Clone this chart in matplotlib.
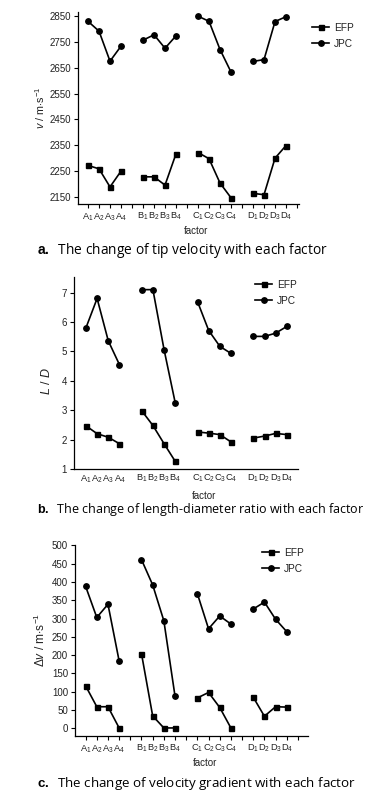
import matplotlib
matplotlib.use("Agg")
import matplotlib.pyplot as plt

plt.rcParams['font.family'] = ['Liberation Sans', 'DejaVu Sans']
plt.rcParams['mathtext.fontset'] = 'custom'
plt.rcParams['mathtext.rm'] = 'Liberation Sans'
plt.rcParams['mathtext.it'] = 'Liberation Sans:italic'
plt.rcParams['mathtext.bf'] = 'Liberation Sans:bold'

# ---------------- data ----------------
groups = ["A", "B", "C", "D"]
levels = [1, 2, 3, 4]
series = ["EFP", "JPC"]

# a. tip velocity (m/s)
v_efp = [2272, 2259, 2189, 2250, 2228, 2228, 2196, 2317,
         2322, 2298, 2204, 2147, 2164, 2159, 2300, 2349]
v_jpc = [2829, 2791, 2675, 2733, 2756, 2777, 2725, 2773,
         2849, 2829, 2720, 2633, 2674, 2681, 2828, 2847]
v_ticks = [2150, 2250, 2350, 2450, 2550, 2650, 2750, 2850]

# b. length-diameter ratio
ld_efp = [2.47, 2.20, 2.08, 1.86, 2.98, 2.48, 1.86, 1.26,
          2.26, 2.22, 2.17, 1.92, 2.05, 2.12, 2.21, 2.17]
ld_jpc = [5.80, 6.80, 5.36, 4.55, 7.10, 7.10, 5.06, 3.25,
          6.69, 5.71, 5.17, 4.93, 5.51, 5.51, 5.62, 5.85]
ld_ticks = [1, 2, 3, 4, 5, 6, 7]

# c. velocity gradient (m/s)
dv_efp = [116, 59, 59, 1, 204, 34, 1, 1,
          83, 98, 57, 1, 85, 33, 59, 58]
dv_jpc = [388, 303, 339, 184, 461, 392, 294, 88,
          368, 272, 307, 285, 326, 345, 298, 264]
dv_ticks = [0, 50, 100, 150, 200, 250, 300, 350, 400, 450, 500]

captions = ["The change of tip velocity with each factor",
            "The change of length-diameter ratio with each factor",
            "The change of velocity gradient with each factor"]
letters = ["a", "b", "c"]
ylabels = [r"$v$ / m$\cdot$s$^{-1}$", r"$L$ / $D$",
           r"Δ$v$ / m$\cdot$s$^{-1}$"]

# x positions: groups separated by one empty slot
xpos = [g * 5 + l for g in range(len(groups)) for l in levels]
tick_pos = list(range(1, 21))
tick_lab = []
for p in tick_pos:
    g, r = divmod(p - 1, 5)
    if r < 4 and g < len(groups):
        tick_lab.append(f"{groups[g]}$_{r + 1}$")
    else:
        tick_lab.append("")

W, H = 372, 794
fig = plt.figure(figsize=(W / 100, H / 100), dpi=100)


def add_ax(l, t, r, b):
    return fig.add_axes([l / W, 1 - b / H, (r - l) / W, (b - t) / H])


panels = [
    dict(box=(78, 12, 299, 204), xlim=(0.09, 20.18), ylim=(2123, 2865),
         efp=v_efp, jpc=v_jpc, yt=v_ticks, xtl=3, xpad=2, leg=(312, 23),
         fx=196, fy=231, cy=251, ylx=40, yly=108, ylfs=7.8, cfs=9.9),
    dict(box=(74, 277, 298, 469), xlim=(-0.07, 19.9), ylim=(1, 7.53),
         efp=ld_efp, jpc=ld_jpc, yt=ld_ticks, xtl=0, xpad=2.5, leg=(255, 280),
         fx=204, fy=496, cy=509, ylx=47, yly=381, ylfs=9.0, cfs=9.0),
    dict(box=(75, 545, 308, 736), xlim=(0.05, 20.9), ylim=(-21, 501),
         efp=dv_efp, jpc=dv_jpc, yt=dv_ticks, xtl=3, xpad=2, leg=(262, 548),
         fx=205, fy=763, cy=783, ylx=40, yly=640, ylfs=8.6, cfs=9.6),
]

for i, P in enumerate(panels):
    ax = add_ax(*P["box"])
    for k in range(len(groups)):
        sl = slice(k * 4, k * 4 + 4)
        ax.plot(xpos[sl], P["efp"][sl], color="black", lw=1.2, marker="s",
                ms=3.6, label=series[0] if k == 0 else None)
        ax.plot(xpos[sl], P["jpc"][sl], color="black", lw=1.2, marker="o",
                ms=3.9, label=series[1] if k == 0 else None)
    ax.set_xlim(*P["xlim"])
    ax.set_ylim(*P["ylim"])
    ax.set_yticks(P["yt"])
    ax.set_xticks(tick_pos)
    ax.set_xticklabels(tick_lab)
    ax.spines["top"].set_visible(False)
    ax.spines["right"].set_visible(False)
    for s in ["left", "bottom"]:
        ax.spines[s].set_linewidth(0.9)
    ax.tick_params(axis="y", length=3, width=0.8, labelsize=7, pad=2,
                   colors="black", labelcolor="#222222")
    ax.tick_params(axis="x", length=P["xtl"], width=0.8, labelsize=6.7,
                   pad=P["xpad"], labelcolor="#222222")
    # axis labels placed in figure pixels
    fig.text(P["fx"] / W, 1 - P["fy"] / H, "factor", ha="center", va="center",
             fontsize=7, color="#222222")
    fig.text(P["ylx"] / W, 1 - P["yly"] / H, ylabels[i],
             rotation=90, ha="center", va="center", fontsize=P["ylfs"],
             color="#222222")
    leg = ax.legend(loc="upper left",
                    bbox_to_anchor=(P["leg"][0] / W, 1 - P["leg"][1] / H),
                    bbox_transform=fig.transFigure, frameon=False,
                    fontsize=7.3, handlelength=1.7, handletextpad=0.45,
                    labelspacing=0.55, borderpad=0, borderaxespad=0)
    for t in leg.get_texts():
        t.set_color("#222222")
    # caption
    fig.text(37 / W, 1 - P["cy"] / H,
             r"$\bf{" + letters[i] + r".}$  " + captions[i],
             ha="left", va="center", fontsize=P["cfs"],
             family=["Open Sans", "DejaVu Sans"], color="black")

fig.savefig("out.png", dpi=100)
